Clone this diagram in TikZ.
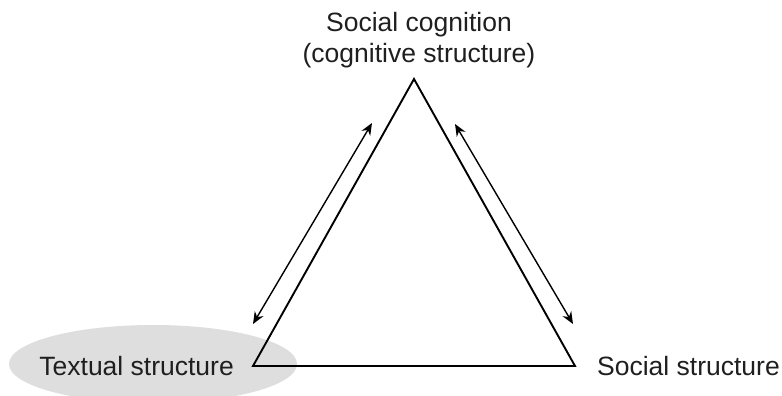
\documentclass[tikz,border=0pt]{standalone}
\usepackage{fontspec}
\setmainfont{Liberation Sans}
\usetikzlibrary{arrows.meta,shapes.geometric}
\begin{document}
\begin{tikzpicture}[x=1pt,y=-1pt,
  lbl/.style={inner sep=0pt,font=\fontsize{26.5}{31}\selectfont,text=black!88},
  tri/.style={draw=black,line width=1.9pt,line join=miter},
  dbl/.style={draw=black,line width=1.4pt,{Stealth[length=12pt,width=10pt]}-{Stealth[length=12pt,width=10pt]}}]
\useasboundingbox (0,0) rectangle (782,396);
\node[ellipse,fill=black!13,minimum width=288pt,minimum height=78pt,inner sep=0pt] (hl) at (153,364) {};
\coordinate (apex) at (414,79);
\coordinate (bl) at (253,366);
\coordinate (br) at (575,366);
\draw[tri] (apex) -- (bl) -- (br) -- cycle;
\coordinate (la) at (253,324);
\coordinate (lb) at (372,123);
\coordinate (ra) at (455,124);
\coordinate (rb) at (573,324);
\draw[dbl] (la) -- (lb);
\draw[dbl] (ra) -- (rb);
\node[lbl,anchor=base east] (txt) at (234,375) {Textual structure};
\node[lbl,anchor=base west] (soc) at (597,375) {Social structure};
\node[lbl,anchor=base,align=center] (cog) at (419,63) {Social cognition\\(cognitive structure)};
\end{tikzpicture}
\end{document}
